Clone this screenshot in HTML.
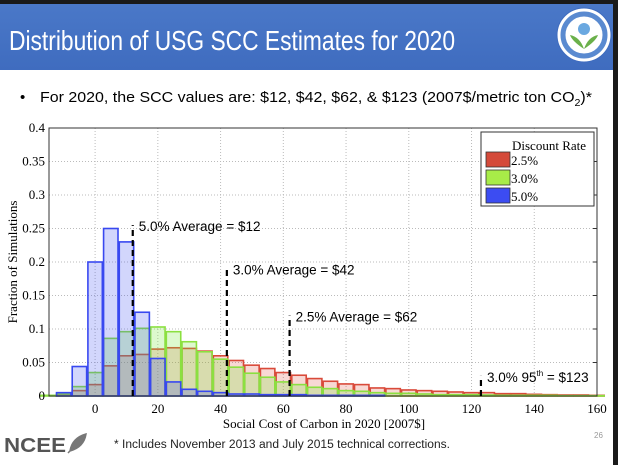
<!DOCTYPE html>
<html><head><meta charset="utf-8"><style>
body{margin:0;width:618px;height:465px;overflow:hidden;background:#fff;position:relative;font-family:"Liberation Sans",sans-serif}
#top{position:absolute;left:0;top:0;width:618px;height:4px;background:#1a1a1a}
#band{position:absolute;left:0;top:4px;width:618px;height:66px;background:linear-gradient(#4a78c8,#3f6cbf)}
#rb{position:absolute;left:613px;top:0;width:5px;height:465px;background:#1a1a1a}
svg{position:absolute;left:0;top:0}
</style></head><body>
<div id="top"></div>
<div id="band"></div>
<div id="rb"></div>
<svg id="chart" width="618" height="465" xmlns="http://www.w3.org/2000/svg">
<text x="9" y="50" font-size="28" fill="#fff" textLength="446" lengthAdjust="spacingAndGlyphs" font-family="Liberation Sans,sans-serif">Distribution of USG SCC Estimates for 2020</text>
<text x="20" y="102" font-size="15" fill="#000">•</text>
<text x="40" y="102" font-size="15" fill="#000" textLength="552" lengthAdjust="spacingAndGlyphs">For 2020, the SCC values are: $12, $42, $62, &amp; $123 (2007$/metric ton CO<tspan font-size="10" dy="4">2</tspan><tspan dy="-4">)*</tspan></text>
<g>
<circle cx="584" cy="35" r="27" fill="#fff" stroke="#3f6cbf" stroke-width="1"/>
<circle cx="584" cy="35" r="21" fill="none" stroke="#5a8ad0" stroke-width="5"/>
<circle cx="584" cy="29" r="6" fill="#6aa8e0"/>
<path d="M584 49 Q572 41 570 35 Q580 37 584 49 Q588 37 598 35 Q596 41 584 49Z" fill="#6ab04a"/>
</g>
<text x="4" y="452" font-size="20" font-weight="bold" fill="#555" textLength="62" lengthAdjust="spacingAndGlyphs">NCEE</text>
<path d="M70 451 Q72 438 86 434 Q84 447 70 451Z M68 453 L84 436" fill="#777" stroke="#777" stroke-width="1.5"/>
<text x="114" y="448" font-size="11.5" fill="#222" textLength="336" lengthAdjust="spacingAndGlyphs">* Includes November 2013 and July 2015 technical corrections.</text>
<text x="594" y="438" font-size="8" fill="#999">26</text>
<g id="plot"></g>
</svg>
<script>
const bins=[-15,-10,-5,0,5,10,15,20,25,30,35,40,45,50,55,60,65,70,75,80,85,90,95,100,105,110,115,120,125,130,135,140,145,150,155,160];
const red=[0,0.002,0.008,0.017,0.045,0.06,0.062,0.07,0.072,0.071,0.067,0.06,0.053,0.046,0.041,0.035,0.031,0.026,0.022,0.018,0.017,0.012,0.011,0.009,0.008,0.007,0.006,0.005,0.005,0.0035,0.0035,0.0025,0.002,0.0015,0.0015,0.001];
const green=[0.001,0.003,0.014,0.035,0.086,0.096,0.101,0.103,0.096,0.081,0.066,0.055,0.043,0.034,0.028,0.021,0.017,0.013,0.011,0.008,0.007,0.005,0.004,0.004,0.003,0.002,0.002,0.002,0.0015,0.001,0.001,0.001,0.001,0.0005,0.0005,0.0005];
const blue=[0,0.005,0.044,0.2,0.25,0.23,0.125,0.056,0.021,0.01,0.007,0.005,0.003,0.003,0.002,0.002,0.002,0.001,0.001,0.001,0.001,0.001,0,0,0,0,0,0,0,0,0,0,0,0,0,0];
const xTicks=[0,20,40,60,80,100,120,140,160];
const yTicks=[0,0.05,0.1,0.15,0.2,0.25,0.3,0.35,0.4];
const yLabels=["0","0.05","0.1","0.15","0.2","0.25","0.3","0.35","0.4"];
const markers=[[12,0.255,"5.0% Average = $12"],[42,0.19,"3.0% Average = $42"],[62,0.12,"2.5% Average = $62"],[123,0.03,"3.0% 95th = $123"]];
const X0=49,X1=597,Y0=396,Y1=128,xmin=-14.7,xmax=160,ymax=0.4;
const sx=v=>X0+(v-xmin)/(xmax-xmin)*(X1-X0);
const sy=v=>Y0-v/ymax*(Y0-Y1);
const g=document.getElementById('plot');const NS='http://www.w3.org/2000/svg';
function mk(t,a,p){const e=document.createElementNS(NS,t);for(const k in a)e.setAttribute(k,a[k]);(p||g).appendChild(e);return e;}
xTicks.forEach(v=>{const l=mk('line',{x1:sx(v),x2:sx(v),y1:Y1,y2:Y0,stroke:'#bbb','stroke-dasharray':'1,2','stroke-width':1});

});
yTicks.forEach(v=>{const l=mk('line',{x1:X0,x2:X1,y1:sy(v),y2:sy(v),stroke:'#bbb','stroke-dasharray':'1,2','stroke-width':1});

});
const series=[[red,'rgba(220,60,40,0.2)','#d94a3a','bar-2-5'],[green,'rgba(120,230,60,0.25)','#8be040','bar-3-0'],[blue,'rgba(50,70,240,0.22)','#3848f0','bar-5-0']];
const bw=3.135*4.6;
series.forEach(([d,f,s,n])=>{d.forEach((v,i)=>{if(v<=0)return;const x=sx(bins[i])-bw/2;
const r=mk('rect',{x:x,y:sy(v),width:bw,height:Y0-sy(v),fill:f,stroke:s,'stroke-width':1.6});

});});
const bx=mk('rect',{x:X0,y:Y1,width:X1-X0,height:Y0-Y1,fill:'none',stroke:'#333','stroke-width':1});


xTicks.forEach(v=>{const t=mk('text',{x:sx(v),y:413,'font-size':13,'text-anchor':'middle','font-family':'Liberation Serif,serif'});t.textContent=v;

});
yTicks.forEach((v,i)=>{const t=mk('text',{x:45,y:sy(v)+4,'font-size':13,'text-anchor':'end','font-family':'Liberation Serif,serif'});t.textContent=yLabels[i];


mk('line',{x1:X1-4,x2:X1,y1:sy(v),y2:sy(v),stroke:'#333'});});
const xt=mk('text',{x:324,y:428,'font-size':13,'text-anchor':'middle','font-family':'Liberation Serif,serif'});xt.textContent='Social Cost of Carbon in 2020 [2007$]';


const yt=mk('text',{x:0,y:0,'font-size':13,'text-anchor':'middle','font-family':'Liberation Serif,serif',transform:'translate(17,262) rotate(-90)'});yt.textContent='Fraction of Simulations';


markers.forEach(([v,h,lab],i)=>{const l=mk('line',{x1:sx(v),x2:sx(v),y1:Y0,y2:sy(h),stroke:'#000','stroke-width':2.2,'stroke-dasharray':'6,4'});


const t=mk('text',{x:sx(v)+6,y:sy(h)+6,'font-size':13.5});
if(i===3){t.innerHTML='3.0% 95<tspan dy="-6" font-size="8">th</tspan><tspan dy="6"> = $123</tspan>';}else t.textContent=lab;

});
const lg=mk('g',{});
mk('rect',{x:481,y:132,width:113,height:74,fill:'#fff',stroke:'#333'},lg);
const lt=mk('text',{x:512,y:150,'font-size':13,'font-family':'Liberation Serif,serif'},lg);lt.textContent='Discount Rate';
[['#d44a3a','2.5%'],['#a8ec48','3.0%'],['#3c4cf2','5.0%']].forEach(([c,s],i)=>{const y=152+i*18;
const sw=mk('rect',{x:486,y:y,width:24,height:15,fill:c,stroke:'#333','stroke-width':0.8},lg);


const t=mk('text',{x:511,y:y+13,'font-size':13,'font-family':'Liberation Serif,serif'},lg);t.textContent=s;

});
</script>
</body></html>
